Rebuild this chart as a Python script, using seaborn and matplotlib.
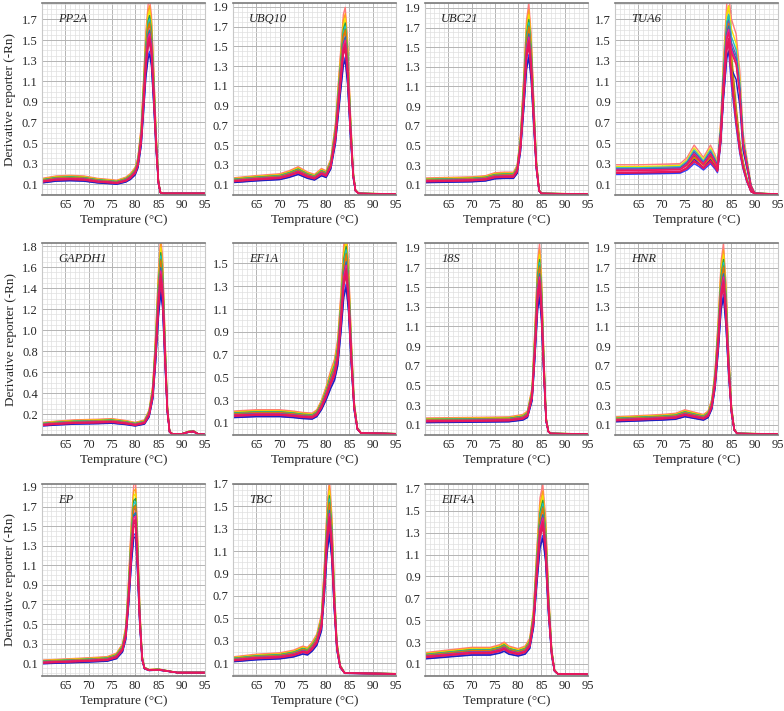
import numpy as np
import pandas as pd
import matplotlib.pyplot as plt
import seaborn as sns
from matplotlib.ticker import MultipleLocator, FixedLocator

# melt curves (temperature knots and derivative values)
pp2a_t = [60, 63, 66, 69, 72, 75, 76, 78, 79, 80, 80.6, 81.3, 81.8, 82.3, 82.8, 83.1, 83.5, 84.0, 84.5, 85.0, 85.4, 86, 95]
pp2a_v = [0.13, 0.15, 0.155, 0.15, 0.13, 0.12, 0.115, 0.14, 0.17, 0.22, 0.3, 0.55, 0.92, 1.32, 1.54, 1.58, 1.45, 1.0, 0.5, 0.12, 0.02, 0.01, 0.01]

ubq10_t = [60, 65, 70, 72, 74, 76, 77.5, 79, 80, 81, 82, 83, 83.7, 84.1, 84.6, 85.2, 85.8, 86.3, 87, 95]
ubq10_v = [0.14, 0.16, 0.175, 0.2, 0.235, 0.19, 0.17, 0.22, 0.2, 0.3, 0.6, 1.15, 1.52, 1.58, 1.3, 0.7, 0.2, 0.04, 0.01, 0.005]

ubc21_t = [60, 65, 70, 73, 75, 77, 79, 79.8, 80.5, 81.2, 81.8, 82.3, 82.8, 83.3, 83.9, 84.5, 85, 95]
ubc21_v = [0.14, 0.145, 0.15, 0.16, 0.185, 0.19, 0.19, 0.25, 0.5, 1.0, 1.48, 1.62, 1.35, 0.85, 0.3, 0.04, 0.01, 0.005]

tua6_t = [60, 65, 70, 74, 75.5, 77, 78, 79, 80.5, 81.5, 82, 82.7, 83.3, 84.0, 84.4, 85, 86, 86.8, 87.5, 88.3, 89.2, 90, 95]
tua6_hi = [0.24, 0.24, 0.245, 0.25, 0.3, 0.4, 0.35, 0.3, 0.4, 0.32, 0.27, 0.6, 1.1, 1.55, 1.62, 1.42, 1.3, 1.0, 0.5, 0.3, 0.08, 0.01, 0.005]
tua6_lo = [0.22, 0.225, 0.23, 0.235, 0.27, 0.34, 0.31, 0.27, 0.34, 0.28, 0.24, 0.55, 1.05, 1.5, 1.58, 1.2, 0.75, 0.45, 0.28, 0.14, 0.03, 0.01, 0.005]

gapdh1_t = [60, 63, 67, 72, 75, 78, 80, 82, 83, 83.8, 84.4, 85, 85.5, 85.9, 86.4, 86.9, 87.4, 88, 90, 91.5, 92.5, 93.5, 95]
gapdh1_v = [0.1, 0.11, 0.12, 0.125, 0.13, 0.115, 0.1, 0.12, 0.2, 0.4, 0.8, 1.3, 1.58, 1.4, 0.8, 0.25, 0.03, 0.01, 0.01, 0.03, 0.035, 0.01, 0.005]

ef1a_t = [60, 65, 70, 73, 75, 77, 78, 79, 80, 81, 81.8, 82.5, 83.2, 83.8, 84.3, 84.8, 85.4, 86, 86.7, 87.5, 95]
ef1a_v = [0.17, 0.18, 0.18, 0.17, 0.16, 0.155, 0.18, 0.25, 0.35, 0.47, 0.55, 0.7, 1.05, 1.4, 1.5, 1.25, 0.7, 0.25, 0.05, 0.01, 0.005]

s18_t = [60, 70, 78, 81, 82, 83, 83.6, 84.2, 84.6, 85.0, 85.5, 86, 86.5, 87, 95]
s18_v = [0.14, 0.145, 0.15, 0.17, 0.2, 0.4, 0.9, 1.48, 1.62, 1.35, 0.7, 0.15, 0.03, 0.01, 0.005]

hnr_t = [60, 65, 70, 73, 75, 77, 79, 80, 80.8, 81.5, 82.2, 82.8, 83.3, 83.8, 84.4, 85, 85.6, 86.2, 95]
hnr_v = [0.15, 0.16, 0.17, 0.18, 0.21, 0.19, 0.17, 0.2, 0.3, 0.55, 1.0, 1.48, 1.62, 1.3, 0.7, 0.25, 0.05, 0.01, 0.005]

ep_t = [60, 65, 70, 74, 76, 77.3, 78, 78.6, 79.2, 79.7, 80.1, 80.5, 81.0, 81.5, 82, 83, 85, 87, 89, 95]
ep_v = [0.11, 0.12, 0.13, 0.14, 0.17, 0.25, 0.4, 0.8, 1.3, 1.6, 1.62, 1.2, 0.55, 0.15, 0.05, 0.03, 0.035, 0.02, 0.005, 0.005]

tbc_t = [60, 65, 70, 73, 75, 76, 77, 78, 79, 79.6, 80.2, 80.7, 81.2, 81.7, 82.3, 83, 84, 95]
tbc_v = [0.13, 0.15, 0.16, 0.18, 0.21, 0.2, 0.24, 0.3, 0.45, 0.8, 1.25, 1.45, 1.2, 0.7, 0.25, 0.07, 0.01, 0.005]

eif4a_t = [60, 65, 70, 74, 76, 77, 78, 80, 81.5, 82.5, 83.3, 84, 84.7, 85.3, 85.9, 86.5, 87.2, 87.8, 88.5, 95]
eif4a_v = [0.17, 0.19, 0.21, 0.21, 0.23, 0.25, 0.22, 0.2, 0.22, 0.28, 0.5, 0.95, 1.35, 1.45, 1.2, 0.65, 0.2, 0.04, 0.01, 0.005]

genes = ["PP2A", "UBQ10", "UBC21", "TUA6", "GAPDH1", "EF1A", "18S", "HNR", "EP", "TBC", "EIF4A"]
temps = [pp2a_t, ubq10_t, ubc21_t, tua6_t, gapdh1_t, ef1a_t, s18_t, hnr_t, ep_t, tbc_t, eif4a_t]
shapes = [[pp2a_v], [ubq10_v], [ubc21_v], [tua6_hi, tua6_lo], [gapdh1_v], [ef1a_v],
          [s18_v], [hnr_v], [ep_v], [tbc_v], [eif4a_v]]
y_tops = [1.86, 1.94, 1.95, 1.86, 1.83, 1.68, 1.95, 1.95, 1.93, 1.70, 1.745]
y_bottoms = [-0.005, -0.005, -0.005, -0.005, 0.0, -0.006, -0.005, -0.005, -0.03, -0.015, -0.01]
y_ticks = [np.arange(0.1, 1.8, 0.2), np.arange(0.1, 2.0, 0.2), np.arange(0.1, 2.0, 0.2),
           np.arange(0.1, 1.8, 0.2), np.arange(0.2, 1.9, 0.2), np.arange(0.1, 1.6, 0.2),
           np.arange(0.1, 2.0, 0.2), np.arange(0.1, 2.0, 0.2), np.arange(0.1, 2.0, 0.2),
           np.arange(0.1, 1.8, 0.2), np.arange(0.1, 1.8, 0.2)]

# replicate wells: peak scale and trace colour (last drawn sits on top)
rep_scale = [1.2, 1.16, 1.13, 1.1, 1.08, 1.06, 1.04, 1.02, 1.0, 0.88, 0.86, 1.05, 1.01,
             0.95, 0.99, 0.93, 0.97, 0.96]
rep_colors = ["#ff7a7a", "#ff9f1c", "#f2e205", "#2e9e3e", "#20c4c4", "#8a8f2a", "#7a4fc0",
              "#ff66cc", "#00875a", "#3344ff", "#2020c0", "#e07b00", "#1f77b4",
              "#c2185b", "#ff1493", "#d81b60", "#ee1a5e", "#e8175d"]

sns.set_style("white")
plt.rcParams["font.family"] = ["Liberation Serif", "DejaVu Serif"]

fig = plt.figure(figsize=(7.84, 7.11), dpi=100)
W, H = 784, 711
col_left = [42, 233, 425, 615]
row_top = [3, 243, 484]
aw, ah = 163, 192

for i, gene in enumerate(genes):
    r, c = divmod(i, 4)
    ax = fig.add_axes([col_left[c] / W, 1 - (row_top[r] + ah) / H, aw / W, ah / H])
    rows = []
    for k, f in enumerate(rep_scale):
        shape = shapes[i][k % len(shapes[i])]
        for t, v in zip(temps[i], shape):
            rows.append({"temp": t, "value": v * f, "rep": f"w{k}"})
    d = pd.DataFrame(rows)
    sns.lineplot(data=d, x="temp", y="value", hue="rep", palette=rep_colors,
                 estimator=None, sort=False, legend=False, linewidth=1.0, ax=ax)

    ax.set_xlim(60, 95)
    ax.set_ylim(y_bottoms[i], y_tops[i])
    ax.xaxis.set_major_locator(FixedLocator([65, 70, 75, 80, 85, 90, 95]))
    ax.xaxis.set_minor_locator(MultipleLocator(1))
    ax.yaxis.set_major_locator(FixedLocator(y_ticks[i]))
    ax.yaxis.set_minor_locator(MultipleLocator(0.05))
    ax.set_yticklabels([f"{t:.1f}" for t in y_ticks[i]])
    ax.grid(which="major", color="#b4b4b4", linewidth=0.7)
    ax.grid(which="minor", color="#e0e0e0", linewidth=0.5)
    ax.set_axisbelow(True)
    ax.tick_params(axis="both", which="major", labelsize=9, length=0, pad=3)
    ax.tick_params(axis="x", which="minor", length=2, color="#888888", direction="out")
    ax.tick_params(axis="y", which="minor", length=0)
    for side in ["left", "right"]:
        ax.spines[side].set_color("#c8c8c8")
        ax.spines[side].set_linewidth(0.8)
    for side in ["top", "bottom"]:
        ax.spines[side].set_color("#7a7a7a")
        ax.spines[side].set_linewidth(1.2)
    ax.set_xlabel("Temprature (°C)", fontsize=9.5, labelpad=2)
    ax.set_ylabel("Derivative reporter (-Rn)" if c == 0 else "", fontsize=9.5, labelpad=4)
    ax.text(0.1, 0.915, gene, transform=ax.transAxes, fontsize=9, style="italic",
            va="center", ha="left")

fig.savefig("out.png", dpi=100)
